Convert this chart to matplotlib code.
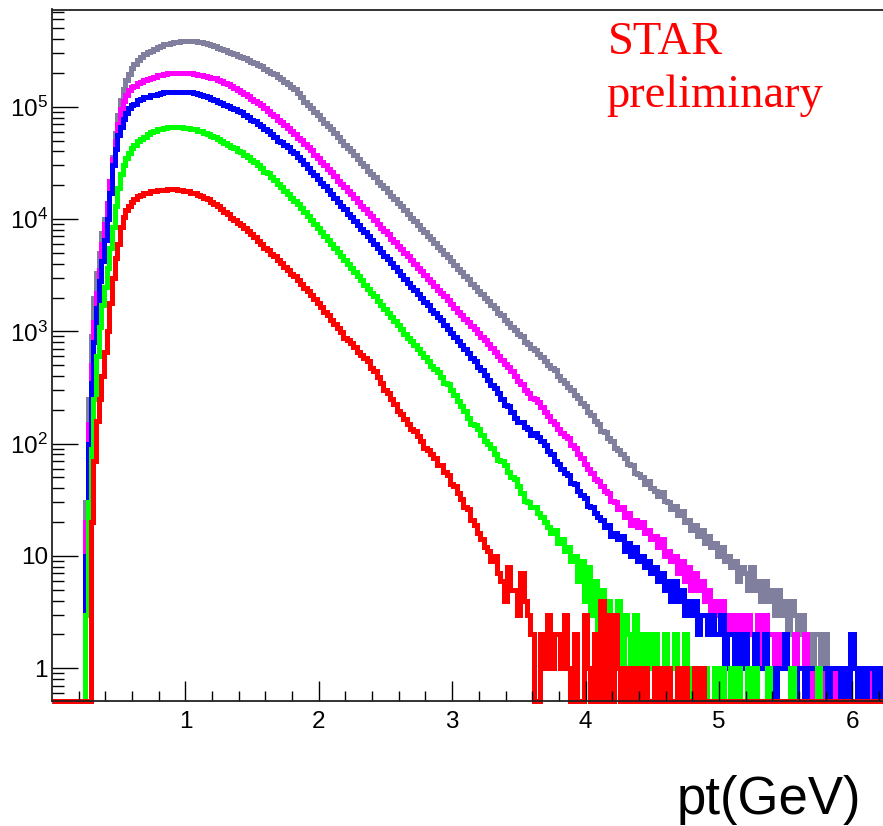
import numpy as np
import matplotlib
matplotlib.use("Agg")
import matplotlib.pyplot as plt
from matplotlib.ticker import LogLocator, NullFormatter

plt.rcParams['font.family'] = ['Liberation Sans Narrow', 'Liberation Sans', 'DejaVu Sans']

# bin edges (GeV): one empty bin, 0.02 bins over the turn-on, 0.025 bins after
edges = np.concatenate([[0.0],
                        np.linspace(0.25, 0.61, 19),
                        np.linspace(0.635, 6.26, 226)])

# counts per bin
gray_counts = [0,
    # turn-on
    30, 250, 900, 2000, 3300, 5000, 7500, 1.0e4, 1.4e4, 2.2e4, 3.6e4, 5.8e4, 8.5e4, 1.15e5, 1.45e5, 1.72e5, 1.97e5, 2.2e5,
    # 0.61 - 3.61
    2.4e5, 2.6e5, 2.8e5, 2.95e5, 3.05e5, 3.15e5, 3.3e5, 3.4e5, 3.5e5, 3.6e5,
    3.64e5, 3.7e5, 3.76e5, 3.8e5, 3.84e5, 3.86e5, 3.86e5, 3.84e5, 3.82e5, 3.78e5,
    3.75e5, 3.69e5, 3.65e5, 3.55e5, 3.45e5, 3.35e5, 3.3e5, 3.18e5, 3.1e5, 3.0e5,
    2.95e5, 2.85e5, 2.8e5, 2.7e5, 2.6e5, 2.5e5, 2.45e5, 2.35e5, 2.3e5, 2.18e5,
    2.1e5, 2.0e5, 1.95e5, 1.85e5, 1.75e5, 1.65e5, 1.6e5, 1.5e5, 1.43e5, 1.33e5,
    1.22e5, 1.1e5, 1.04e5, 9.7e4, 9.0e4, 8.4e4, 7.8e4, 7.2e4, 6.8e4, 6.3e4,
    5.8e4, 5.4e4, 5.0e4, 4.6e4, 4.3e4, 4.0e4, 3.7e4, 3.4e4, 3.15e4, 2.95e4,
    2.7e4, 2.5e4, 2.35e4, 2.15e4, 2.02e4, 1.88e4, 1.75e4, 1.62e4, 1.5e4, 1.4e4,
    1.3e4, 1.2e4, 1.11e4, 1.03e4, 9600, 8900, 8200, 7600, 7100, 6600,
    6100, 5600, 5300, 4900, 4600, 4200, 3900, 3600, 3350, 3100,
    2950, 2650, 2500, 2300, 2150, 1980, 1850, 1720, 1600, 1470,
    1400, 1250, 1180, 1090, 1020, 940, 900, 800, 770, 710,
    # 3.61 - 6.26
    680, 630, 590, 540, 500, 470, 450, 400, 370, 350,
    320, 300, 270, 255, 230, 215, 190, 180, 160, 150,
    130, 128, 112, 105, 92, 88, 80, 74, 66, 64,
    55, 54, 50, 44, 46, 40, 38, 34, 37, 31,
    30, 26, 28, 23, 25, 20, 21, 17, 19, 15,
    17, 13, 15, 12, 13, 10, 12, 9, 10, 8,
    9, 6, 8, 7, 5, 8, 5, 6, 4, 6,
    4, 5, 3, 5, 3, 4, 2, 4, 3, 2,
    3, 2, 2, 1, 2, 2, 1, 2, 1, 1,
    0, 1, 1, 0, 1, 2, 1, 0, 1, 1,
    0, 1, 1, 0, 1, 1]

magenta_counts = [0,
    20, 150, 500, 1200, 2200, 3500, 6000, 9000, 1.4e4, 2.2e4, 3.4e4, 5.0e4, 7.0e4, 9.5e4, 1.12e5, 1.28e5, 1.4e5, 1.5e5,
    1.52e5, 1.62e5, 1.67e5, 1.73e5, 1.77e5, 1.82e5, 1.86e5, 1.9e5, 1.93e5, 1.96e5,
    1.98e5, 1.995e5, 2.0e5, 2.0e5, 2.0e5, 2.0e5, 2.0e5, 1.98e5, 1.97e5, 1.93e5,
    1.92e5, 1.87e5, 1.86e5, 1.81e5, 1.79e5, 1.73e5, 1.69e5, 1.63e5, 1.58e5, 1.52e5,
    1.48e5, 1.41e5, 1.36e5, 1.29e5, 1.24e5, 1.17e5, 1.13e5, 1.07e5, 1.03e5, 9.7e4,
    9.2e4, 8.6e4, 8.2e4, 7.7e4, 7.3e4, 6.9e4, 6.5e4, 6.1e4, 5.7e4, 5.3e4,
    5.05e4, 4.7e4, 4.4e4, 4.1e4, 3.75e4, 3.5e4, 3.2e4, 3.0e4, 2.8e4, 2.6e4,
    2.4e4, 2.2e4, 2.07e4, 1.93e4, 1.78e4, 1.66e4, 1.54e4, 1.43e4, 1.32e4, 1.23e4,
    1.14e4, 1.06e4, 9800, 9100, 8400, 7800, 7300, 6700, 6200, 5800,
    5400, 5000, 4700, 4300, 4000, 3700, 3450, 3200, 2950, 2750,
    2550, 2350, 2200, 2050, 1900, 1750, 1630, 1500, 1400, 1300,
    1220, 1120, 1040, 960, 890, 830, 770, 710, 660, 600,
    560, 510, 480, 440, 400, 360, 340, 300, 280, 255,
    250, 235, 210, 190, 175, 160, 150, 135, 125, 118,
    112, 98, 92, 80, 74, 66, 60, 55, 48, 46,
    42, 38, 36, 31, 30, 26, 27, 22, 24, 19,
    21, 18, 20, 16, 17, 14, 15, 12, 14, 10,
    11, 9, 10, 7, 9, 6, 8, 5, 7, 5,
    6, 4, 5, 3, 4, 3, 4, 2, 3, 2,
    3, 2, 3, 2, 3, 2, 2, 3, 1, 3,
    2, 2, 1, 2, 1, 2, 1, 1, 2, 1,
    1, 2, 1, 0, 1, 1, 0, 1, 1, 1,
    0, 1, 1, 0, 1, 1, 1, 0, 1, 1,
    1, 0, 1, 1, 0, 1]

blue_counts = [0,
    10, 100, 350, 800, 1600, 2800, 4200, 6500, 1.0e4, 1.7e4, 3.0e4, 4.2e4, 5.6e4, 6.6e4, 7.8e4, 8.8e4, 9.7e4, 1.04e5,
    1.06e5, 1.14e5, 1.17e5, 1.21e5, 1.23e5, 1.27e5, 1.28e5, 1.31e5, 1.32e5, 1.34e5,
    1.35e5, 1.36e5, 1.36e5, 1.36e5, 1.36e5, 1.36e5, 1.355e5, 1.34e5, 1.33e5, 1.3e5,
    1.28e5, 1.24e5, 1.22e5, 1.18e5, 1.15e5, 1.11e5, 1.09e5, 1.04e5, 1.02e5, 9.8e4,
    9.5e4, 9.1e4, 8.9e4, 8.4e4, 8.1e4, 7.7e4, 7.4e4, 7.0e4, 6.8e4, 6.3e4,
    6.1e4, 5.7e4, 5.4e4, 5.0e4, 4.85e4, 4.55e4, 4.35e4, 4.05e4, 3.85e4, 3.55e4,
    3.35e4, 3.1e4, 2.85e4, 2.65e4, 2.45e4, 2.28e4, 2.1e4, 1.95e4, 1.8e4, 1.68e4,
    1.54e4, 1.43e4, 1.31e4, 1.22e4, 1.12e4, 1.04e4, 9600, 8900, 8200, 7600,
    7100, 6500, 6000, 5500, 5100, 4700, 4400, 4050, 3750, 3450,
    3200, 2950, 2700, 2500, 2350, 2150, 2000, 1820, 1700, 1560,
    1450, 1350, 1250, 1140, 1050, 960, 890, 820, 760, 690,
    640, 580, 540, 480, 450, 410, 370, 330, 310, 280,
    250, 220, 215, 190, 170, 155, 155, 140, 135, 120,
    125, 115, 105, 98, 86, 80, 70, 66, 60, 55,
    52, 45, 44, 38, 35, 33, 28, 27, 24, 22,
    21, 18, 19, 15, 16, 14, 15, 11, 13, 10,
    12, 9, 10, 8, 9, 7, 8, 6, 7, 5,
    6, 4, 6, 4, 5, 3, 4, 3, 4, 2,
    3, 3, 2, 3, 2, 2, 3, 1, 2, 2,
    1, 2, 1, 2, 1, 1, 2, 1, 1, 2,
    1, 1, 0, 1, 1, 2, 1, 1, 0, 1,
    1, 0, 1, 1, 1, 0, 1, 1, 0, 1,
    1, 1, 0, 1, 0, 2, 1, 0, 1, 0,
    1, 1, 0, 1, 0, 1]

green_counts = [0,
    3, 30, 90, 250, 600, 1100, 1700, 2500, 3700, 5500, 8500, 1.3e4, 1.9e4, 2.5e4, 3.0e4, 3.5e4, 3.9e4, 4.3e4,
    4.6e4, 5.0e4, 5.15e4, 5.4e4, 5.7e4, 5.95e4, 6.1e4, 6.3e4, 6.4e4, 6.5e4,
    6.55e4, 6.6e4, 6.6e4, 6.6e4, 6.6e4, 6.5e4, 6.5e4, 6.4e4, 6.3e4, 6.1e4,
    6.05e4, 5.85e4, 5.7e4, 5.5e4, 5.35e4, 5.15e4, 5.0e4, 4.8e4, 4.6e4, 4.4e4,
    4.25e4, 4.05e4, 3.95e4, 3.7e4, 3.55e4, 3.35e4, 3.2e4, 3.0e4, 2.85e4, 2.65e4,
    2.55e4, 2.35e4, 2.25e4, 2.07e4, 1.93e4, 1.78e4, 1.67e4, 1.55e4, 1.45e4, 1.35e4,
    1.25e4, 1.15e4, 1.06e4, 9800, 9100, 8400, 7600, 7000, 6500, 6000,
    5500, 5050, 4650, 4300, 3950, 3650, 3350, 3100, 2850, 2600,
    2400, 2200, 2050, 1880, 1720, 1590, 1460, 1340, 1240, 1140,
    1040, 950, 880, 820, 750, 690, 640, 590, 540, 490,
    460, 430, 390, 350, 340, 300, 270, 240, 215, 195,
    170, 150, 145, 135, 120, 105, 100, 92, 80, 72,
    70, 64, 56, 50, 48, 42, 36, 31, 30, 27,
    27, 24, 22, 20, 18, 16, 17, 13, 14, 11,
    12, 9, 10, 6, 9, 4, 8, 3, 6, 2,
    5, 2, 4, 1, 3, 4, 1, 3, 2, 1,
    3, 1, 2, 0, 2, 1, 2, 1, 0, 2,
    1, 1, 2, 0, 1, 2, 1, 0, 1, 1,
    0, 1, 0, 0, 1, 0, 1, 0, 0, 1,
    0, 1, 0, 0, 1, 0, 1, 0, 0, 0,
    1, 0, 0, 0, 0, 0, 0, 1, 0, 0,
    0, 0, 0, 0, 0, 1, 0, 0, 0, 0,
    0, 0, 0, 0, 0, 0, 0, 0, 0, 0,
    0, 0, 0, 0, 0, 0]

red_counts = [0,
    0, 0, 20, 70, 160, 250, 400, 650, 1000, 1800, 3000, 4500, 6000, 8500, 1.05e4, 1.2e4, 1.32e4, 1.42e4,
    1.5e4, 1.6e4, 1.64e4, 1.69e4, 1.72e4, 1.76e4, 1.77e4, 1.8e4, 1.81e4, 1.83e4,
    1.84e4, 1.84e4, 1.84e4, 1.82e4, 1.81e4, 1.78e4, 1.76e4, 1.72e4, 1.7e4, 1.64e4,
    1.61e4, 1.55e4, 1.5e4, 1.43e4, 1.37e4, 1.3e4, 1.24e4, 1.16e4, 1.1e4, 1.03e4,
    9800, 9200, 8900, 8300, 7900, 7300, 6900, 6400, 6000, 5550,
    5300, 4900, 4650, 4300, 4050, 3750, 3550, 3250, 3100, 2850,
    2650, 2450, 2300, 2100, 1950, 1780, 1650, 1500, 1400, 1260,
    1170, 1060, 980, 880, 830, 780, 720, 650, 620, 580,
    540, 470, 440, 390, 350, 300, 280, 250, 225, 195,
    185, 165, 150, 135, 130, 118, 105, 92, 88, 80,
    74, 64, 64, 56, 52, 44, 42, 36, 32, 27,
    26, 21, 19, 16, 14, 12, 11, 9, 10, 7,
    6, 4, 8, 5, 5, 3, 7, 4, 3, 2,
    0, 0, 2, 1, 3, 1, 2, 2, 1, 3,
    1, 0, 2, 0, 0, 3, 1, 0, 2, 0,
    4, 0, 3, 0, 3, 1, 0, 1, 0, 1,
    0, 1, 0, 1, 0, 0, 1, 0, 1, 0,
    1, 0, 0, 1, 0, 1, 0, 0, 1, 0,
    1, 0, 0, 0, 0, 0, 0, 0, 0, 0,
    0, 0, 0, 0, 0, 0, 0, 0, 0, 0,
    0, 0, 0, 0, 0, 0, 0, 0, 0, 0,
    0, 0, 0, 0, 0, 0, 0, 0, 0, 0,
    0, 0, 0, 0, 0, 0, 0, 0, 0, 0,
    0, 0, 0, 0, 0, 0]

series = [(gray_counts, '#80809e'),
          (magenta_counts, '#ff00ff'),
          (blue_counts, '#0000ff'),
          (green_counts, '#00ff00'),
          (red_counts, '#ff0000')]

ymin, ymax = 0.51, 7.35e5

fig = plt.figure(figsize=(8.83, 8.26), dpi=100)
ax = fig.add_axes([52 / 883, 125 / 826, 831 / 883, 691.5 / 826])

for counts, col in series:
    c = np.array(counts, dtype=float)
    assert len(c) == len(edges) - 1, len(c)
    c[c <= 0] = ymin   # empty bins lie on the frame like in ROOT
    ax.stairs(c, edges, color=col, lw=3.6, baseline=None, clip_on=False)

ax.set_yscale('log')
ax.set_xlim(0, 6.23)
ax.set_ylim(ymin, ymax)

ax.set_xticks([1, 2, 3, 4, 5, 6])
ax.set_xticklabels(['1', '2', '3', '4', '5', '6'])
ax.set_xticks(np.arange(0.2, 6.23, 0.2), minor=True)
ax.set_yticks([1, 10, 100, 1e3, 1e4, 1e5])
ax.set_yticklabels(['1', '10', r'$\mathregular{10^{2}}$', r'$\mathregular{10^{3}}$',
                    r'$\mathregular{10^{4}}$', r'$\mathregular{10^{5}}$'])
ax.yaxis.set_minor_locator(LogLocator(base=10, subs=range(2, 10), numticks=20))
ax.yaxis.set_minor_formatter(NullFormatter())

ax.tick_params(axis='y', which='major', direction='in', length=19, width=1, labelsize=17.5, pad=3)
ax.tick_params(axis='y', which='minor', direction='in', length=8.5, width=1)
ax.tick_params(axis='x', which='major', direction='in', length=14.5, width=1, labelsize=17.5, pad=7)
ax.tick_params(axis='x', which='minor', direction='in', length=7.5, width=1)
ax.tick_params(top=False, right=False, which='both')

ax.spines['right'].set_visible(False)
for s in ['left', 'bottom', 'top']:
    ax.spines[s].set_linewidth(1.3)
    ax.spines[s].set_color('#222222')

fig.text(608 / 883, 1 - 54.5 / 826, 'STAR', color='red', fontsize=33.5,
         family='Liberation Serif', va='baseline', ha='left')
fig.text(606 / 883, 1 - 107 / 826, 'preliminary', color='red', fontsize=33.5,
         family='Liberation Serif', va='baseline', ha='left')
fig.text(861 / 883, 12 / 826, 'pt(GeV)', fontsize=38, family='Liberation Sans',
         va='baseline', ha='right')

fig.savefig('out.png', dpi=100)
